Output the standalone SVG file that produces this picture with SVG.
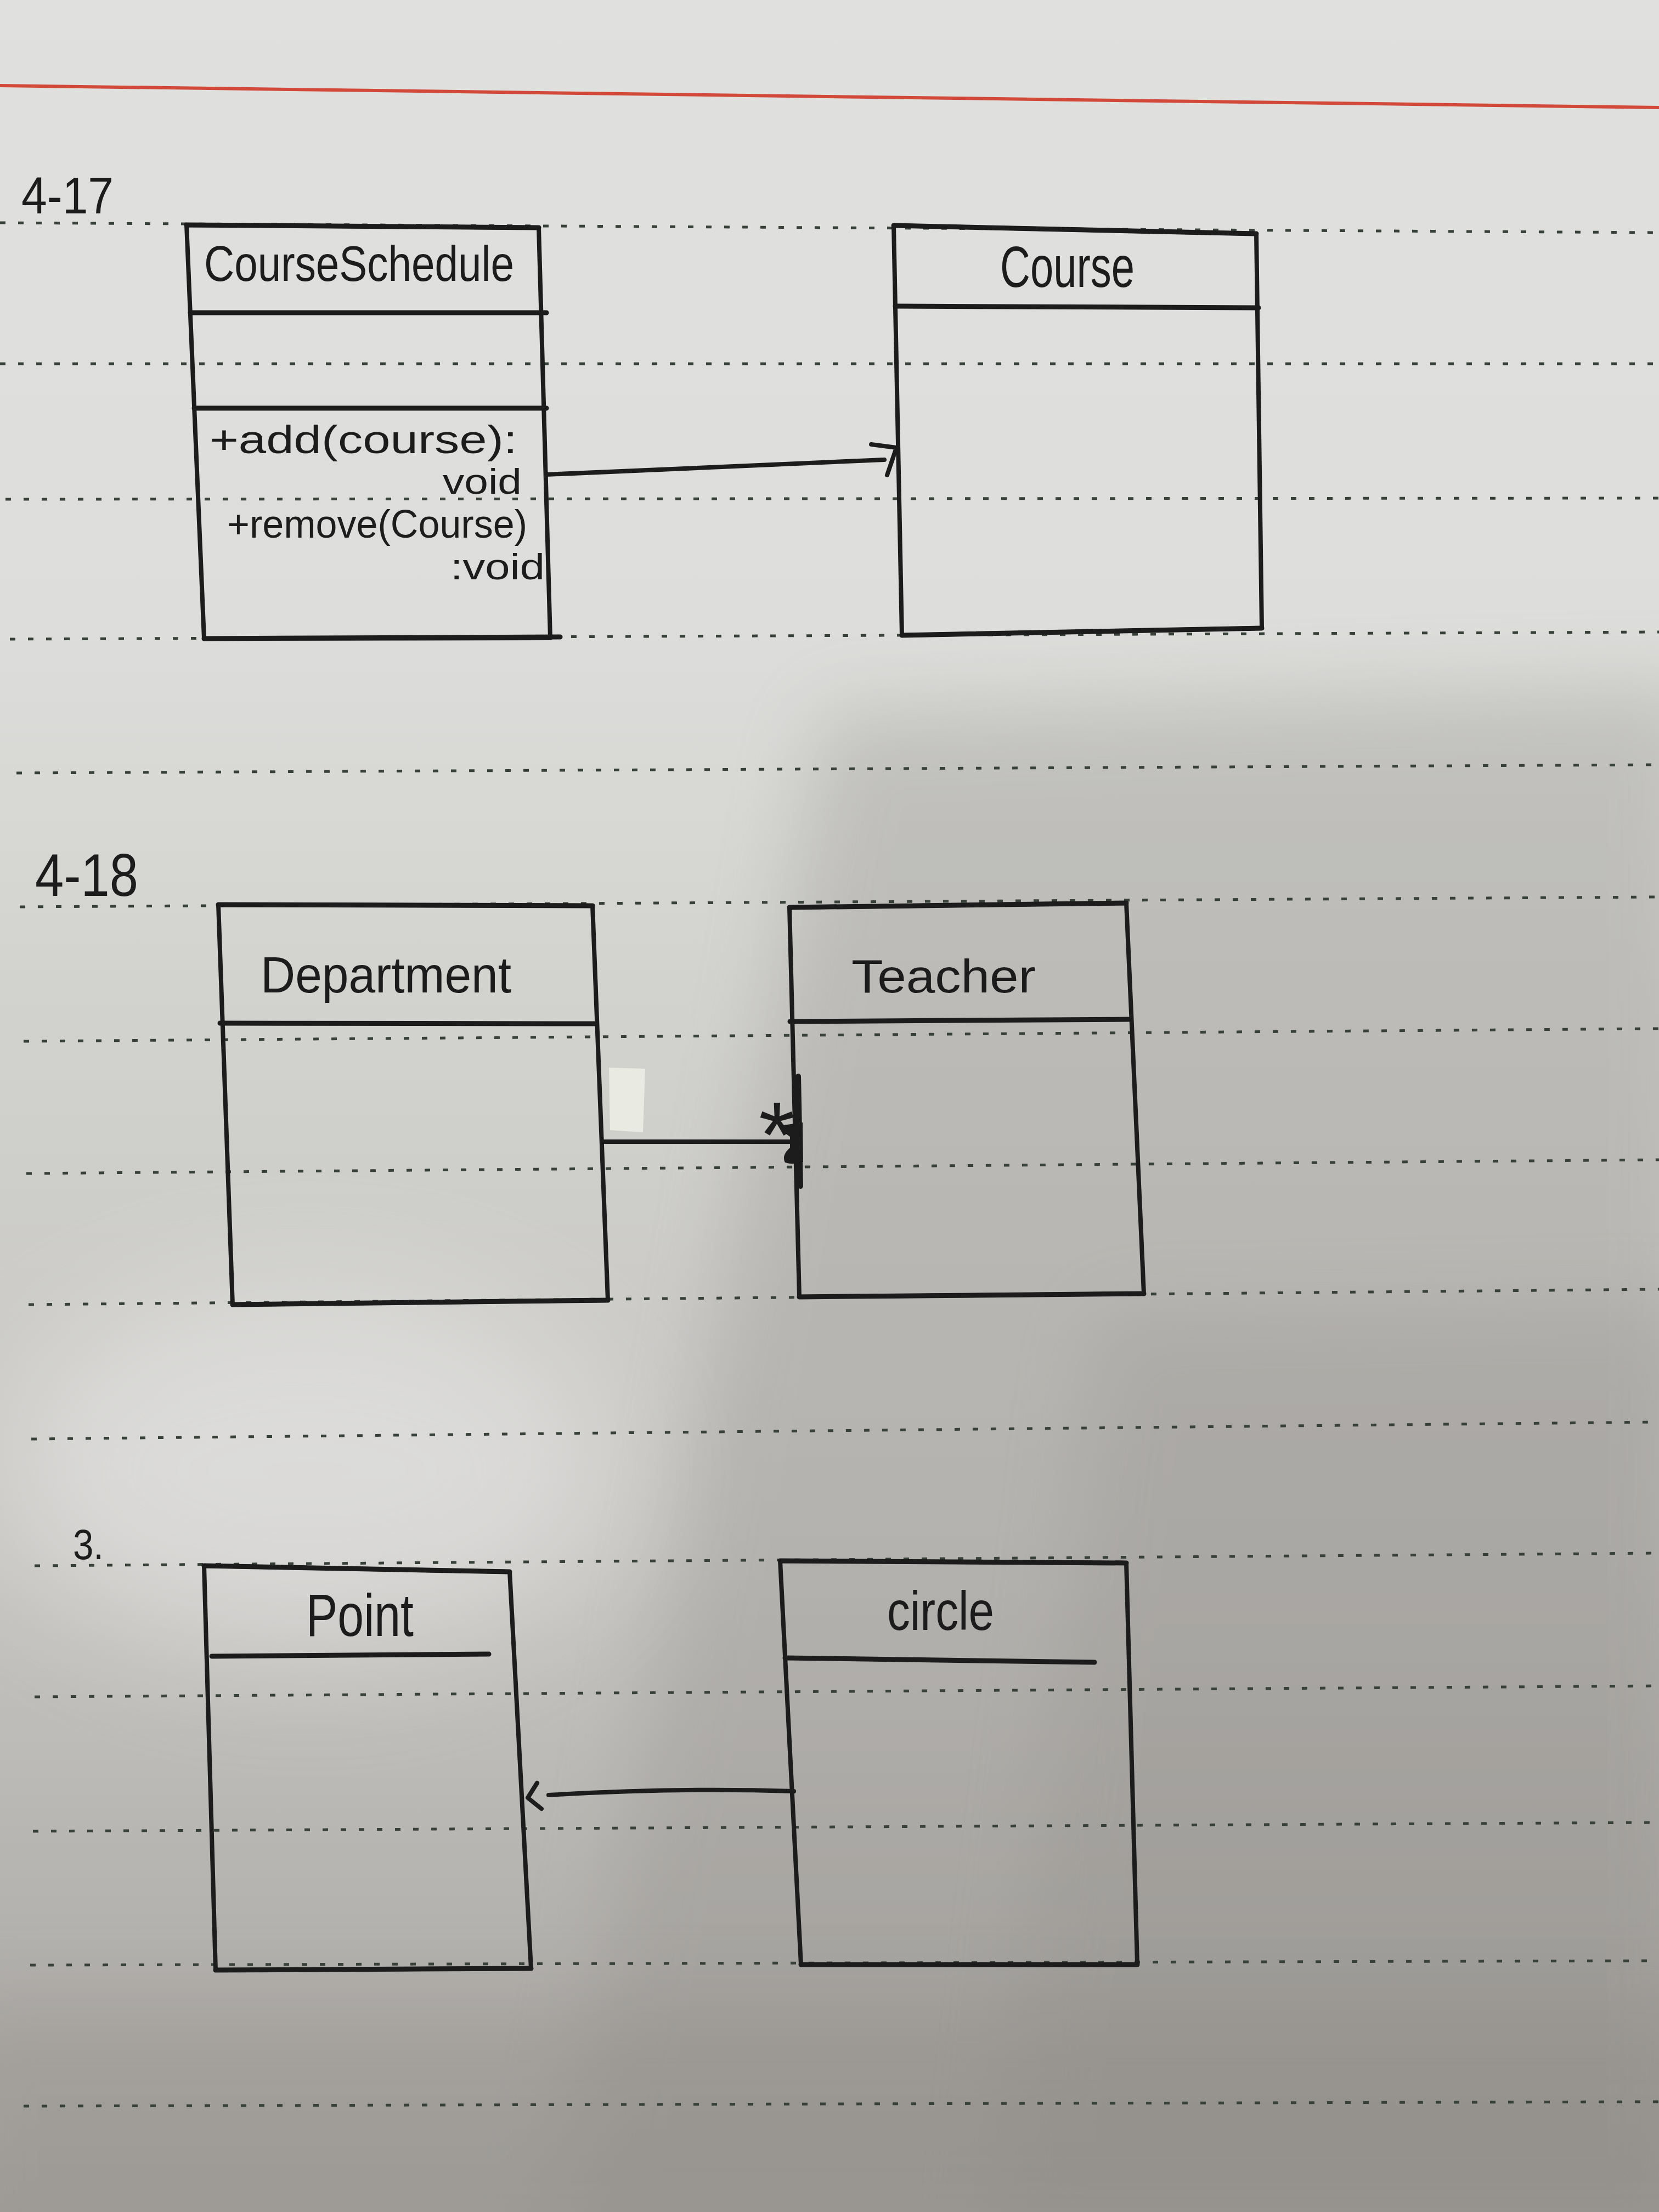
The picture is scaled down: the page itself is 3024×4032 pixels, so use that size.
<svg xmlns="http://www.w3.org/2000/svg" width="3024" height="4032" viewBox="0 0 3024 4032">
<defs>
<style>
.box{fill:none;stroke:#1c1c1c;stroke-width:8;stroke-linejoin:round;stroke-linecap:round}
.div{fill:none;stroke:#1c1c1c;stroke-width:9;stroke-linecap:round}
.con{fill:none;stroke:#1c1c1c;stroke-width:8;stroke-linecap:round;stroke-linejoin:round}
.t{font-family:"Liberation Sans","DejaVu Sans",sans-serif;fill:#1c1c1c}
.rule{stroke:#38403a;stroke-width:5;stroke-dasharray:10 23;fill:none}
</style>
<linearGradient id="bg" x1="0" y1="0" x2="0" y2="1">
<stop offset="0" stop-color="#e0e1de"/>
<stop offset="0.28" stop-color="#dddedb"/>
<stop offset="0.45" stop-color="#d2d2cf"/>
<stop offset="0.7" stop-color="#c6c5c2"/>
<stop offset="1" stop-color="#a6a39f"/>
</linearGradient>
<filter id="blur" x="-30%" y="-30%" width="160%" height="160%"><feGaussianBlur stdDeviation="70"/></filter>
<filter id="blur2" x="-50%" y="-50%" width="200%" height="200%"><feGaussianBlur stdDeviation="120"/></filter>
</defs>

<!-- paper -->
<rect x="0" y="0" width="3024" height="4032" fill="url(#bg)"/>
<path d="M1500,1300 C1950,1280 2500,1262 3100,1250 L3100,4100 L1000,4100 Z" fill="#8f8c88" opacity="0.32" filter="url(#blur)"/>
<path d="M2000,2400 L3100,2380 L3100,4100 L1800,4100 Z" fill="#8a8783" opacity="0.22" filter="url(#blur)"/>
<rect x="-100" y="3650" width="3300" height="500" fill="#8a8783" opacity="0.3" filter="url(#blur)"/>
<ellipse cx="560" cy="2680" rx="560" ry="330" fill="#ffffff" opacity="0.35" filter="url(#blur2)"/>

<!-- red margin line -->
<line x1="0" y1="156" x2="3024" y2="196" stroke="#d2493a" stroke-width="6"/>

<!-- ruled dotted lines -->
<g id="rules">
<line class="rule" x1="0" y1="406" x2="3024" y2="424"/>
<line class="rule" x1="0" y1="663" x2="3024" y2="663"/>
<line class="rule" x1="10" y1="910" x2="3024" y2="908"/>
<line class="rule" x1="18" y1="1165" x2="3024" y2="1152"/>
<line class="rule" x1="30" y1="1409" x2="3024" y2="1394"/>
<line class="rule" x1="36" y1="1653" x2="3024" y2="1635"/>
<line class="rule" x1="43" y1="1898" x2="3024" y2="1875"/>
<line class="rule" x1="48" y1="2139" x2="3024" y2="2114"/>
<line class="rule" x1="52" y1="2378" x2="3024" y2="2350"/>
<line class="rule" x1="57" y1="2623" x2="3024" y2="2592"/>
<line class="rule" x1="63" y1="2854" x2="3024" y2="2831"/>
<line class="rule" x1="63" y1="3093" x2="3024" y2="3073"/>
<line class="rule" x1="60" y1="3338" x2="3024" y2="3322"/>
<line class="rule" x1="55" y1="3582" x2="3024" y2="3574"/>
<line class="rule" x1="43" y1="3839" x2="3024" y2="3831"/>
</g>

<!-- paper scrap -->
<polygon points="1110,1946 1176,1948 1172,2064 1112,2060" fill="#e9eae2"/>

<!-- section labels -->
<text class="t" x="39" y="389" font-size="95" textLength="168" lengthAdjust="spacingAndGlyphs">4-17</text>
<text class="t" x="64" y="1633" font-size="110" textLength="188" lengthAdjust="spacingAndGlyphs">4-18</text>
<text class="t" x="133" y="2842" font-size="77" textLength="56" lengthAdjust="spacingAndGlyphs">3.</text>

<!-- nodes -->
<g id="CourseSchedule">
<path class="box" d="M340,410 L982,415 L1003,1163 L372,1164 Z"/>
<path class="div" d="M340,410 L982,415"/>
<path class="div" d="M372,1164 L1021,1161"/>
<path class="div" d="M347,570 L996,570"/>
<path class="div" d="M354,744 L996,744"/>
<text class="t" x="372" y="512" font-size="90" textLength="565" lengthAdjust="spacingAndGlyphs">CourseSchedule</text>
<text class="t" x="382" y="826" font-size="72" textLength="561" lengthAdjust="spacingAndGlyphs">+add(course):</text>
<text class="t" x="807" y="900" font-size="64" textLength="144" lengthAdjust="spacingAndGlyphs">void</text>
<text class="t" x="414" y="980" font-size="72" textLength="547" lengthAdjust="spacingAndGlyphs">+remove(Course)</text>
<text class="t" x="821" y="1056" font-size="66" textLength="172" lengthAdjust="spacingAndGlyphs">:void</text>
</g>

<g id="Course">
<path class="box" d="M1629,411 L2290,426 L2300,1145 L1644,1158 Z"/>
<path class="div" d="M1629,411 L2290,426"/>
<path class="div" d="M1644,1158 L2300,1145"/>
<path class="div" d="M1632,558 L2294,561"/>
<text class="t" x="1823" y="523" font-size="105" textLength="245" lengthAdjust="spacingAndGlyphs">Course</text>
</g>

<g id="Department">
<path class="box" d="M398,1649 L1080,1651 L1108,2370 L424,2378 Z"/>
<path class="div" d="M398,1649 L1080,1651"/>
<path class="div" d="M424,2378 L1108,2370"/>
<path class="div" d="M401,1865 L1086,1866"/>
<text class="t" x="475" y="1809" font-size="92" textLength="457" lengthAdjust="spacingAndGlyphs">Department</text>
</g>

<g id="Teacher">
<path class="box" d="M1439,1654 L2053,1646 L2085,2358 L1457,2364 Z"/>
<path class="div" d="M1439,1654 L2053,1646"/>
<path class="div" d="M1457,2364 L2085,2358"/>
<path class="div" d="M1440,1862 L2058,1858"/>
<text class="t" x="1552" y="1809" font-size="85" textLength="336" lengthAdjust="spacingAndGlyphs">Teacher</text>
</g>

<g id="Point">
<path class="box" d="M372,2854 L929,2865 L968,3588 L393,3591 Z"/>
<path class="div" d="M372,2854 L929,2865"/>
<path class="div" d="M393,3591 L968,3588"/>
<path class="div" d="M386,3019 L891,3015"/>
<text class="t" x="558" y="2982" font-size="110" textLength="196" lengthAdjust="spacingAndGlyphs">Point</text>
</g>

<g id="circle">
<path class="box" d="M1422,2845 L2053,2849 L2073,3581 L1460,3581 Z"/>
<path class="div" d="M1422,2845 L2053,2849"/>
<path class="div" d="M1460,3581 L2073,3581"/>
<path class="div" d="M1431,3022 L1995,3030"/>
<text class="t" x="1617" y="2971" font-size="100" textLength="195" lengthAdjust="spacingAndGlyphs">circle</text>
</g>

<!-- connectors -->
<g id="connectors">
<path class="con" d="M996,865 L1612,838"/>
<polyline class="con" points="1588,810 1634,816 1617,866"/>

<path class="con" d="M1100,2081 L1440,2081"/>
<path d="M1455,1962 L1459,2162" fill="none" stroke="#1c1c1c" stroke-width="10" stroke-linecap="round"/>
<path d="M1420,2052 Q1442,2049 1463,2046 L1464,2118 Q1446,2124 1431,2119 Q1424,2106 1440,2092 L1440,2072 Q1425,2062 1420,2052 Z" fill="#1c1c1c"/>
<text class="t" x="1383" y="2128" font-size="170">*</text>

<path class="con" d="M1447,3265 Q1232,3258 1000,3272"/>
<polyline class="con" points="979,3250 962,3277 987,3297"/>
</g>
</svg>
